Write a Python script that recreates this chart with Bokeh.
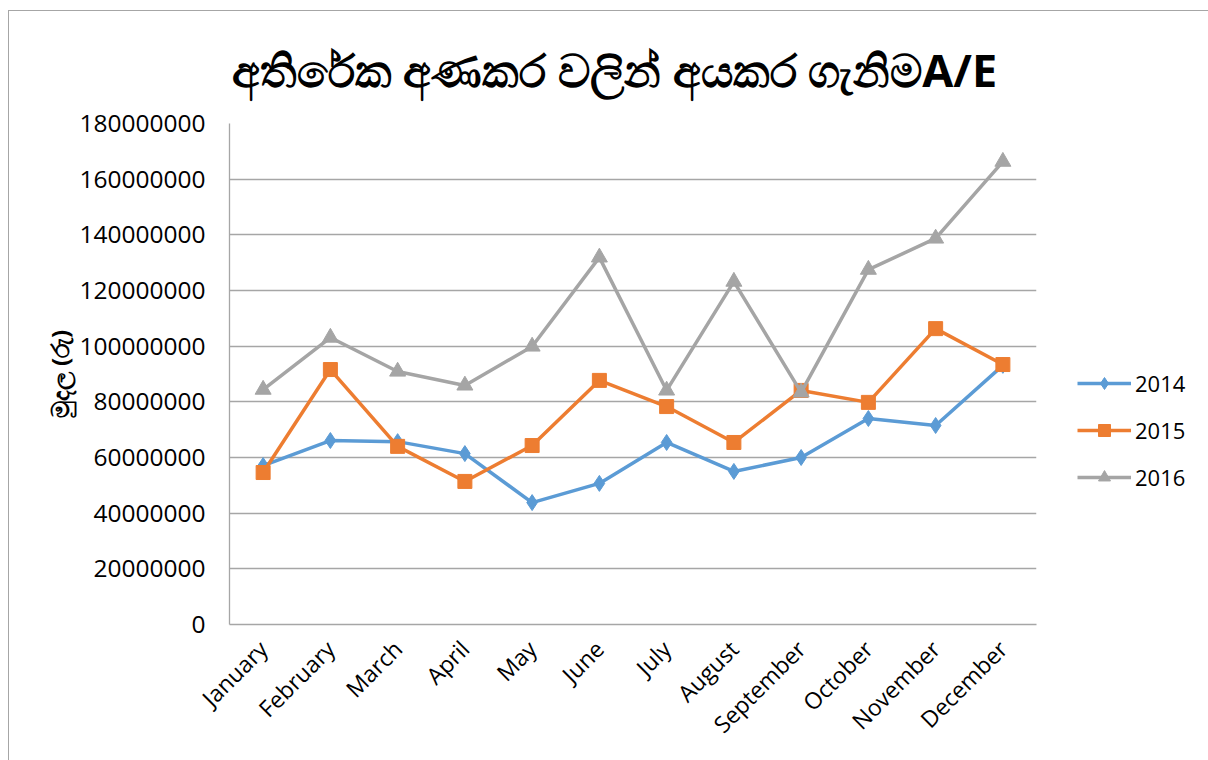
from bokeh.plotting import figure
from bokeh.models import Legend, LegendItem, FactorRange, SingleIntervalTicker, NumeralTickFormatter, Range1d
from bokeh.embed import file_html
from bokeh.resources import INLINE
import math

months = ["January", "February", "March", "April", "May", "June", "July",
          "August", "September", "October", "November", "December"]
s2014 = [57100000, 66100000, 65700000, 61400000, 43800000, 50700000,
         65400000, 55000000, 60000000, 74000000, 71500000, 93100000]
s2015 = [54600000, 91600000, 64000000, 51400000, 64300000, 87700000,
         78300000, 65400000, 84100000, 79800000, 106300000, 93400000]
s2016 = [84400000, 103100000, 90900000, 85900000, 99900000, 131900000,
         84100000, 123200000, 83400000, 127500000, 138700000, 166300000]
series_names = ["2014", "2015", "2016"]
title_text = "අතිරේක අණකර වලින් අයකර ගැනිමA/E"
y_label = "මුදල (රු)"

FONT = "Open Sans"

p = figure(frame_width=807, frame_height=501, x_range=FactorRange(factors=months),
           y_range=Range1d(0, 180000000), output_backend="svg",
           toolbar_location=None,
           min_border_left=220, min_border_right=173,
           min_border_top=112, min_border_bottom=137)

p.title.text = title_text
p.title.align = "left"
p.title.offset = 2
p.title.text_font = FONT
p.title.text_font_size = "45px"
p.title.text_font_style = "bold"
p.title.text_color = "#000000"
p.title.standoff = 48

p.outline_line_color = None
p.xgrid.grid_line_color = None
p.ygrid.grid_line_color = "#a6a6a6"
p.ygrid.grid_line_width = 1.3

p.yaxis.ticker = SingleIntervalTicker(interval=20000000)
p.yaxis.formatter = NumeralTickFormatter(format="0")
p.yaxis.major_label_text_font = FONT
p.yaxis.major_label_text_font_size = "24.5px"
p.yaxis.major_label_text_color = "#000000"
p.yaxis.axis_line_color = "#a6a6a6"
p.yaxis.axis_line_width = 1.3
p.yaxis.major_tick_line_color = None
p.yaxis.minor_tick_line_color = None
p.yaxis.major_tick_out = 0
p.yaxis.major_tick_in = 0
p.yaxis.major_label_standoff = 20
p.yaxis.axis_label = y_label
p.yaxis.axis_label_text_font = FONT
p.yaxis.axis_label_text_font_size = "24px"
p.yaxis.axis_label_text_font_style = "bold"
p.yaxis.axis_label_text_color = "#000000"
p.yaxis.axis_label_standoff = 0

p.xaxis.major_label_orientation = math.pi / 4
p.xaxis.major_label_text_font = FONT
p.xaxis.major_label_text_font_size = "23px"
p.xaxis.major_label_text_color = "#000000"
p.xaxis.axis_line_color = "#a6a6a6"
p.xaxis.axis_line_width = 1.3
p.xaxis.major_tick_line_color = None
p.xaxis.minor_tick_line_color = None
p.xaxis.major_tick_out = 0
p.xaxis.major_tick_in = 0
p.xaxis.major_label_standoff = 20

colors = ["#5b9bd5", "#ed7d31", "#a5a5a5"]
markers = ["diamond", "square", "triangle"]
sizes = [16, 14, 16]
items = []
for name, vals, col, mk, sz in zip(series_names, [s2014, s2015, s2016], colors,
                                   markers, sizes):
    l = p.line(months, vals, line_color=col, line_width=3.5)
    m = p.scatter(months, vals, marker=mk, size=sz,
                  fill_color=col, line_color=col)
    items.append(LegendItem(label=name, renderers=[l, m]))

legend = Legend(items=items, location="top_left", orientation="vertical",
                title=" ", title_text_font_size="2px", title_standoff=202,
                label_text_font=FONT, label_text_font_size="22px",
                label_text_color="#000000", glyph_width=54, glyph_height=30,
                spacing=17, label_standoff=4, padding=10, margin=41,
                border_line_color=None, background_fill_alpha=0)
p.add_layout(legend, "right")

p.styles = {"border-left": "1px solid #a6a6a6", "border-top": "1px solid #a6a6a6",
            "margin-left": "8px", "margin-top": "10px"}

html = file_html(p, INLINE)
html = html.replace("<head>", "<head><style>html,body{overflow:hidden;margin:0;}</style>", 1)
open("out.html", "w").write(html)
